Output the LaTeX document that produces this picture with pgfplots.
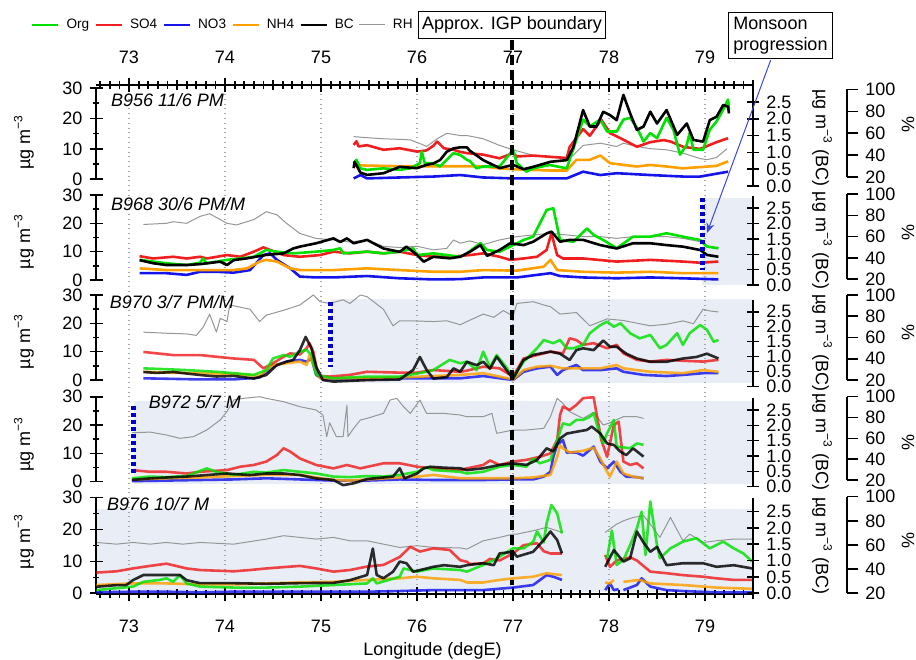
\documentclass[border=0pt]{standalone}
\usepackage{fontspec}
\setmainfont{Liberation Sans}
\usepackage{pgfplots}
\pgfplotsset{compat=1.18}
\usetikzlibrary{arrows.meta}
\definecolor{corg}{RGB}{0,225,0}
\definecolor{cso4}{RGB}{240,30,30}
\definecolor{cno3}{RGB}{20,20,235}
\definecolor{cnh4}{RGB}{255,160,0}
\definecolor{crh}{RGB}{150,150,150}
\definecolor{shadec}{RGB}{232,237,246}
\definecolor{cdot}{RGB}{0,0,200}
\definecolor{carrow}{RGB}{60,70,230}
\newcommand\fs[1]{\fontsize{#1}{#1}\selectfont}
\pgfplotsset{
 /pgf/number format/assume math mode=true,
 noarrows/.style={axis line style={-, line width=0.8pt, black}, x axis line style={-}, y axis line style={-},
   every outer y axis line/.append style={-}, every inner y axis line/.append style={-},
   every outer x axis line/.append style={-}, every inner x axis line/.append style={-}},
 base/.style={scale only axis, width=328.5pt, xmin=72.656, xmax=79.5, anchor=south west,
   axis x line=none, tick align=outside,
   tick style={line width=0.8pt, black}, clip=false, unbounded coords=jump,
   tick label style={font=\fs{9}}},
 soft/.style={every axis plot/.append style={opacity=0.82}},
 leftax/.style={base, axis y line=left, noarrows, ymin=0, ymax=30, ytick={0,10,20,30}, minor y tick num=1,
   major tick length=6.5pt, minor tick length=3pt},
 bcax/.style={base, axis y line=right, noarrows, ymin=0, ytick={0,0.5,...,2.5}, major tick length=6.3pt,
   yticklabel style={/pgf/number format/.cd, fixed, fixed zerofill, precision=1, /tikz/.cd}},
 rhdat/.style={base, axis y line=none, ymin=20, ymax=100},
 rhscale/.style={scale only axis, width=10pt, xmin=0, xmax=1, ymin=20, ymax=100, anchor=south east,
   axis x line=none, axis y line=right, noarrows, ytick={20,40,60,80,100}, tick align=outside,
   major tick length=5.8pt, tick style={line width=0.8pt, black},
   tick label style={font=\fs{9}}},
 sorg/.style={color=corg, line width=1.3pt, line join=round},
 sso4/.style={color=cso4, line width=1.3pt, line join=round},
 sno3/.style={color=cno3, line width=1.3pt, line join=round},
 snh4/.style={color=cnh4, line width=1.3pt, line join=round},
 sbc/.style={color=black, line width=1.3pt, line join=round},
 srh/.style={color=crh, line width=0.5pt, line join=round},
 frame/.style={scale only axis, width=328.5pt, height=254.5pt, at={(48pt,32.5pt)}, anchor=south west,
   xmin=72.656, xmax=79.5, ymin=0, ymax=1, axis y line=none,
   tick style={line width=0.9pt, black}, tick align=outside, xtick={73,...,79}, xticklabels={},
   minor xtick={72.7,72.8,...,79.5}, major tick length=7pt, minor tick length=3.7pt,
   extra x ticks={73.5,74.5,...,79.5}, extra x tick labels={},
   extra x tick style={major tick length=5.2pt, grid=none}},
}
\begin{document}
\begin{tikzpicture}
\useasboundingbox (0pt,0pt) rectangle (458pt,329.5pt);
\begin{scope}[shift={(0pt,329.5pt)}, x=0.5pt, y=-0.5pt]
\fill[shadec] (702.3,198) rectangle (753,285);
\fill[shadec] (331,299.3) rectangle (753,382.7);
\fill[shadec] (134,400.7) rectangle (753,484);
\fill[shadec] (97,509) rectangle (753,591.7);
\end{scope}
% bottom longitude axis with grid
\begin{axis}[frame, axis x line=bottom, noarrows, axis line style={line width=0.9pt}, xmajorgrids, major grid style={dotted, gray!70, line width=0.6pt}]
\addplot[draw=none] coordinates {(73,0.5) (79,0.5)};
\end{axis}
% top longitude axis with legend
\begin{axis}[frame, axis x line=top, noarrows, axis line style={line width=0.9pt}, legend columns=6,
  legend style={at={(rel axis cs:-0.0989,1.1179)}, anchor=west, draw=none, fill=none, inner sep=0pt,
    outer sep=0pt, font=\fs{6.8}, nodes={inner sep=0pt},
    /tikz/every odd column/.append style={column sep=3.5pt},
    /tikz/every even column/.append style={column sep=2.6pt}},
  legend cell align=left,
  legend image code/.code={\draw[#1] (0pt,0pt) -- (13pt,0pt);}]
\addlegendimage{sorg}\addlegendentry{Org}
\addlegendimage{sso4}\addlegendentry{SO4}
\addlegendimage{sno3}\addlegendentry{NO3}
\addlegendimage{snh4}\addlegendentry{NH4}
\addlegendimage{sbc}\addlegendentry{BC}
\addlegendimage{srh}\addlegendentry{RH}
\end{axis}

% ================= Panel 1: B956 =================
\begin{axis}[rhdat, at={(48pt,240.85pt)}, height=44pt]
\addplot[srh] coordinates {(75.34,57) (75.48,56) (75.65,55) (75.82,54.5) (75.93,54) (76.05,50) (76.10,48) (76.21,55) (76.31,60) (76.38,59) (76.45,58) (76.52,58) (76.69,55) (76.86,49) (77.0,45) (77.21,40) (77.39,39) (77.56,37) (77.63,40) (77.66,43) (77.73,49) (77.91,51) (78.08,48) (78.15,51) (78.29,48) (78.43,46) (78.60,45) (78.77,42) (78.95,37) (79.02,36) (79.12,38) (79.23,46)};
\end{axis}
\begin{axis}[leftax, at={(48pt,239.85pt)}, height=45.65pt]
\addplot[sno3] coordinates {(75.34,0.3) (75.41,1.4) (75.48,0.3) (75.82,0.6) (76.17,0.9) (76.45,1.4) (76.69,0.6) (77.0,0.3) (77.56,0.3) (77.73,2.5) (77.91,1.4) (78.08,2.0) (78.43,1.4) (78.77,0.9) (78.95,0.9) (79.24,2.5)};
\addplot[snh4] coordinates {(75.34,4.7) (75.48,4.5) (75.82,4.3) (76.17,4.3) (76.45,4.3) (76.69,4.2) (76.86,3.6) (77.0,3.3) (77.38,2.9) (77.56,2.9) (77.66,6.4) (77.80,6.4) (77.91,7.8) (78.01,5.3) (78.29,4.2) (78.43,4.7) (78.60,4.2) (78.77,3.6) (79.12,4.4) (79.24,5.9)};
\addplot[sso4] coordinates {(75.34,11.3) (75.37,12.5) (75.39,10.8) (75.48,11.2) (75.65,9.7) (75.82,10.2) (76.0,9.1) (76.10,9.5) (76.17,11) (76.21,12.4) (76.28,10.2) (76.38,9.7) (76.45,9.0) (76.52,8.6) (76.69,8.1) (76.86,6.9) (77.0,8.6) (77.04,7.5) (77.21,7.8) (77.38,7.4) (77.56,7.0) (77.59,10.6) (77.73,16.5) (77.80,14.3) (77.92,19.6) (78.01,15.2) (78.15,13.0) (78.29,10.7) (78.43,12.2) (78.57,12.9) (78.64,12.4) (78.78,10.6) (78.95,10.0) (79.12,12.2) (79.24,13.5)};
\addplot[sorg] coordinates {(75.34,5.3) (75.37,6.4) (75.41,3.6) (75.48,3.1) (75.65,3.6) (75.82,3.1) (75.93,3.6) (76.03,5.3) (76.05,9.1) (76.08,5.3) (76.17,5.3) (76.24,4.2) (76.31,6.4) (76.38,8.6) (76.45,8.0) (76.52,6.4) (76.55,6.0) (76.62,3.6) (76.69,4.2) (76.86,4.2) (77.0,9.7) (77.04,5.3) (77.14,2.5) (77.21,3.6) (77.38,4.7) (77.56,3.6) (77.63,10.2) (77.73,19.6) (77.80,17.4) (77.91,19.6) (77.98,15.7) (78.08,15.7) (78.15,19.6) (78.22,20.2) (78.29,17.0) (78.36,12.4) (78.43,15.2) (78.50,13.5) (78.60,20.2) (78.67,16.3) (78.74,8.1) (78.81,11.3) (78.84,15.2) (78.88,9.7) (78.98,9.7) (79.05,16.3) (79.12,19.0) (79.19,22.9) (79.24,26.2) (79.25,23)};
\end{axis}
\begin{axis}[bcax, at={(48pt,236.5pt)}, height=48pt, ymax=2.857]
\addplot[sbc] coordinates {(75.34,0.53) (75.35,0.72) (75.41,0.40) (75.48,0.33) (75.65,0.38) (75.82,0.57) (76.0,0.53) (76.10,0.63) (76.17,0.67) (76.24,0.77) (76.31,1.02) (76.38,1.12) (76.45,1.15) (76.52,1.15) (76.55,1.05) (76.69,0.77) (76.86,0.53) (77.0,0.63) (77.11,0.50) (77.21,0.57) (77.39,0.72) (77.56,0.77) (77.63,1.17) (77.73,2.26) (77.80,1.77) (77.87,1.77) (77.94,2.21) (78.01,2.11) (78.08,1.96) (78.15,2.71) (78.22,2.16) (78.29,1.67) (78.36,1.77) (78.43,2.21) (78.50,1.86) (78.60,2.26) (78.71,1.52) (78.81,1.86) (78.88,1.37) (78.98,1.32) (79.05,1.96) (79.12,2.06) (79.19,2.41) (79.24,2.36) (79.25,2.16)};
\end{axis}
\begin{axis}[rhscale, at={(423.35pt,240.85pt)}, height=44pt]
\end{axis}

% ================= Panel 2: B968 =================
\begin{axis}[rhdat, at={(48pt,189.85pt)}, height=42.65pt]
\addplot[srh] coordinates {(73.15,71.4) (73.39,72.5) (73.46,74) (73.60,72.5) (73.74,79) (73.84,81.5) (74.02,72.5) (74.12,71) (74.30,76) (74.43,83.4) (74.54,80.5) (74.64,72.5) (74.78,63) (74.95,58.3) (75.13,56.9) (75.30,55) (75.48,56.9) (75.65,50.9) (75.82,49.8) (76.0,51) (76.17,47.6) (76.31,49) (76.38,56.9) (76.45,53.8) (76.55,56) (76.69,52.5) (76.86,56.9) (77.04,60) (77.21,61.6) (77.39,63.1) (77.56,61.6) (77.73,60) (77.91,60) (78.08,58.4) (78.25,60) (78.43,60) (78.60,60) (78.77,58.4) (78.95,55.3)};
\end{axis}
\begin{axis}[leftax, at={(48pt,189.5pt)}, height=42.5pt]
\addplot[sno3] coordinates {(73.11,2.4) (73.39,2.4) (73.60,1.8) (73.74,2.9) (73.91,2.9) (74.09,2.6) (74.26,3.5) (74.40,8.8) (74.47,9.4) (74.54,7.1) (74.68,4.1) (74.78,1.2) (74.95,0.9) (75.13,0.9) (75.48,1.4) (75.82,0.6) (76.17,0.2) (76.45,0.3) (76.69,0.9) (77.04,0.9) (77.39,2.4) (77.49,1.4) (77.73,0.9) (78.08,0.6) (78.43,0.9) (78.77,0.6) (79.14,0.2)};
\addplot[snh4] coordinates {(73.11,4.1) (73.39,3.5) (73.74,3.5) (74.09,3.5) (74.23,4.1) (74.36,6.5) (74.43,7.1) (74.54,6.5) (74.68,4.1) (74.78,3.5) (75.13,3.5) (75.48,4.1) (75.82,3.5) (76.17,2.9) (76.45,2.9) (76.69,3.5) (77.04,3.3) (77.32,4.7) (77.39,7.1) (77.46,3.5) (77.73,2.9) (78.08,2.6) (78.43,2.9) (78.77,2.4) (79.14,2.4)};
\addplot[sso4] coordinates {(73.11,8.4) (73.25,7.6) (73.46,8.2) (73.60,7.6) (73.74,8.2) (73.81,7.6) (74.02,8.8) (74.16,8.2) (74.30,10.0) (74.40,11.5) (74.47,10.6) (74.61,8.8) (74.78,8.2) (74.99,8.8) (75.13,10.0) (75.30,9.4) (75.48,10.0) (75.65,9.4) (75.82,10.0) (76.0,8.8) (76.17,8.2) (76.34,8.2) (76.55,8.8) (76.69,9.4) (76.86,8.2) (76.97,7.1) (77.11,7.6) (77.25,8.2) (77.35,10.6) (77.40,16.5) (77.46,8.8) (77.52,7.6) (77.73,7.6) (78.08,6.5) (78.43,7.1) (78.77,6.5) (78.95,6.1) (79.14,6.5)};
\addplot[sorg] coordinates {(73.11,7.1) (73.25,6.5) (73.39,5.9) (73.60,5.3) (73.74,6.1) (73.77,7.6) (73.81,5.9) (74.02,7.1) (74.16,7.6) (74.30,8.2) (74.43,10.6) (74.54,10.0) (74.71,9.4) (74.95,10.0) (75.13,10.6) (75.20,11.2) (75.23,9.4) (75.48,10.0) (75.65,9.4) (75.82,10.0) (75.96,11.2) (76.0,8.8) (76.17,9.4) (76.45,8.2) (76.52,9.4) (76.66,13.0) (76.73,10.6) (76.86,10.0) (76.97,11.8) (77.11,14.1) (77.21,15.3) (77.35,24.7) (77.42,25.3) (77.49,14.1) (77.63,13.5) (77.77,18.2) (77.84,15.9) (77.94,14.1) (78.08,11.2) (78.25,15.3) (78.43,15.3) (78.60,16.5) (78.77,15.3) (78.95,14.1) (79.02,11.8) (79.14,11.2)};
\end{axis}
\begin{axis}[bcax, at={(48pt,187pt)}, height=44.5pt, ymax=2.9]
\addplot[sbc] coordinates {(73.11,0.81) (73.25,0.71) (73.39,0.65) (73.60,0.65) (73.74,0.68) (73.95,0.76) (74.02,0.65) (74.09,0.81) (74.23,0.87) (74.43,0.98) (74.61,1.03) (74.71,1.19) (74.78,1.25) (74.95,1.36) (75.13,1.52) (75.20,1.40) (75.27,1.52) (75.34,1.36) (75.48,1.47) (75.65,1.19) (75.82,1.08) (75.89,1.25) (76.0,0.98) (76.07,0.76) (76.17,0.92) (76.34,0.87) (76.45,0.92) (76.55,1.08) (76.66,1.30) (76.73,0.95) (76.86,1.14) (76.97,1.36) (77.11,1.30) (77.21,1.41) (77.35,1.68) (77.40,1.74) (77.49,1.41) (77.59,1.47) (77.73,1.47) (77.91,1.30) (78.08,1.19) (78.25,1.36) (78.43,1.36) (78.60,1.30) (78.77,1.25) (78.95,1.14) (79.02,0.98) (79.14,0.92)};
\end{axis}
\begin{axis}[rhscale, at={(423.35pt,189.85pt)}, height=42.65pt]
\end{axis}

% ================= Panel 3: B970 =================
\begin{axis}[rhdat, at={(48pt,139.5pt)}, height=42.5pt]
\addplot[srh] coordinates {(73.15,65) (73.39,64) (73.60,63.4) (73.70,62) (73.77,69.4) (73.84,82) (73.91,65) (73.95,78) (74.02,75) (74.05,90.6) (74.26,86.6) (74.36,75) (74.43,81) (74.61,85.6) (74.78,90.6) (74.92,100) (74.99,93.7) (75.09,92) (75.23,95.5) (75.30,92) (75.41,100) (75.48,98.4) (75.65,86.6) (75.75,71) (75.82,75.7) (76.0,75.5) (76.17,75) (76.31,75.7) (76.45,72) (76.52,75) (76.69,82) (76.80,79) (76.90,85.4) (77.0,80) (77.04,92) (77.21,93.7) (77.32,90.6) (77.39,89) (77.49,82) (77.66,83.5) (77.80,71) (77.98,77.5) (78.15,76) (78.43,71) (78.60,72.5) (78.77,75.6) (78.88,73) (78.98,86.6) (79.05,85) (79.14,84)};
\end{axis}
\begin{axis}[leftax, soft, at={(48pt,139.5pt)}, height=42.5pt]
\addplot[sno3] coordinates {(73.15,0.6) (73.74,0.2) (74.09,0.2) (74.36,0.9) (74.50,4.7) (74.64,6.5) (74.78,7.1) (74.85,6.5) (74.90,7.6) (74.95,1.8) (75.02,0.2) (75.48,0.3) (75.82,0.6) (76.45,0.6) (76.69,1.4) (77.0,0) (77.11,2.9) (77.25,4.1) (77.39,4.7) (77.46,1.8) (77.52,3.5) (77.66,5.3) (77.73,3.5) (77.91,3.5) (78.08,4.1) (78.15,2.9) (78.36,1.8) (78.60,1.4) (78.77,1.8) (78.98,2.4) (79.14,2.4)};
\addplot[snh4] coordinates {(73.15,2.9) (73.39,2.6) (73.74,2.4) (74.09,2.1) (74.36,1.4) (74.50,5.3) (74.64,5.9) (74.78,6.5) (74.85,5.3) (74.88,8.8) (74.92,5.3) (74.99,0.6) (75.13,0.6) (75.48,0.6) (75.82,0.9) (76.17,1.4) (76.45,1.8) (76.69,2.4) (77.0,0.2) (77.11,3.5) (77.25,4.7) (77.39,5.0) (77.52,4.1) (77.73,4.1) (77.91,4.1) (78.08,5.3) (78.15,4.1) (78.43,2.9) (78.77,2.4) (78.98,3.5) (79.14,2.9)};
\addplot[sso4] coordinates {(73.15,9.9) (73.29,9.4) (73.46,8.8) (73.74,8.8) (73.91,8.2) (74.09,7.6) (74.30,7.1) (74.40,4.1) (74.50,5.9) (74.61,8.2) (74.68,9.4) (74.78,9.0) (74.85,11.2) (74.88,13.0) (74.92,10.0) (74.97,1.5) (75.09,1.2) (75.30,1.8) (75.48,2.9) (75.82,2.6) (76.0,2.6) (76.17,3.5) (76.45,2.9) (76.52,3.3) (76.69,4.7) (76.86,4.1) (77.0,1.2) (77.11,7.6) (77.25,8.8) (77.39,10.0) (77.52,9.4) (77.59,14.7) (77.66,14.1) (77.73,12.4) (77.84,13.0) (77.98,11.2) (78.08,12.4) (78.15,9.4) (78.29,7.1) (78.43,6.5) (78.60,7.1) (78.77,6.8) (78.98,6.5) (79.14,7.1)};
\addplot[sorg] coordinates {(73.15,4.1) (73.39,3.8) (73.60,3.5) (73.91,2.9) (74.09,2.4) (74.30,1.8) (74.43,3.5) (74.50,7.6) (74.61,8.8) (74.68,8.2) (74.78,10.0) (74.85,10.6) (74.90,8.8) (74.95,1.8) (75.13,0.6) (75.48,1.2) (75.82,1.2) (76.10,2.9) (76.17,3.5) (76.34,7.1) (76.45,5.9) (76.52,6.5) (76.62,3.5) (76.69,10.0) (76.76,4.5) (76.83,8.8) (76.93,4.5) (77.0,0.6) (77.11,6.5) (77.25,11.2) (77.32,14.1) (77.42,13.0) (77.49,14.1) (77.56,11.2) (77.63,11.2) (77.73,12.4) (77.80,16.5) (77.91,19.4) (77.98,20.6) (78.05,18.8) (78.12,20.0) (78.22,16.5) (78.32,14.7) (78.43,15.9) (78.53,11.2) (78.60,12.4) (78.71,16.5) (78.77,12.4) (78.84,16.5) (78.95,19.4) (79.02,17.7) (79.09,13.5) (79.14,14.1)};
\end{axis}
\begin{axis}[bcax, soft, at={(48pt,136.15pt)}, height=43.5pt, ymax=2.9]
\addplot[sbc] coordinates {(73.15,0.49) (73.29,0.46) (73.46,0.49) (73.74,0.39) (73.91,0.34) (74.09,0.36) (74.30,0.27) (74.43,0.39) (74.54,0.72) (74.64,0.83) (74.71,0.89) (74.78,1.22) (74.84,1.66) (74.90,1.28) (74.95,0.66) (75.02,0.22) (75.13,0.17) (75.48,0.22) (75.82,0.24) (75.96,0.56) (76.03,0.99) (76.10,0.56) (76.17,0.27) (76.31,0.32) (76.38,0.61) (76.45,0.50) (76.52,0.83) (76.62,0.72) (76.69,0.83) (76.76,0.60) (76.83,1.0) (76.93,0.56) (77.0,0.27) (77.11,0.89) (77.21,1.06) (77.39,1.17) (77.49,1.10) (77.59,0.89) (77.66,1.22) (77.73,1.28) (77.84,1.22) (77.94,1.54) (78.01,1.33) (78.08,1.33) (78.18,1.10) (78.29,0.94) (78.43,0.83) (78.60,0.83) (78.77,0.94) (78.91,0.99) (79.02,1.10) (79.14,0.94)};
\end{axis}
\begin{axis}[rhscale, at={(423.35pt,139.5pt)}, height=42.5pt]
\end{axis}

% ================= Panel 4: B972 =================
\begin{axis}[rhdat, at={(48pt,89.5pt)}, height=41.65pt]
\addplot[srh] coordinates {(73.03,65.4) (73.22,66) (73.39,63.2) (73.53,60) (73.67,61.6) (73.81,68) (73.95,77.6) (74.02,85.8) (74.09,96.8) (74.19,98.4) (74.36,100) (74.43,98.4) (74.61,95.2) (74.78,90.4) (74.95,87.2) (75.02,82.4) (75.06,61.6) (75.09,75) (75.16,61.6) (75.23,61.6) (75.27,91.9) (75.28,61.6) (75.34,69.6) (75.41,77.6) (75.48,79.2) (75.65,84) (75.72,96.8) (75.79,98.4) (75.86,90.4) (75.93,84) (76.03,96.8) (76.10,84) (76.28,84) (76.45,82.4) (76.52,80.8) (76.69,80.8) (76.78,84) (76.83,64.8) (77.0,68) (77.14,68) (77.32,69.6) (77.39,80.8) (77.46,98.4) (77.52,93.6) (77.59,85.6) (77.73,79.2) (77.84,85) (77.94,72.8) (78.01,75) (78.15,80.8) (78.29,80.8) (78.36,79.2)};
\end{axis}
\begin{axis}[leftax, soft, at={(48pt,88.65pt)}, height=42.5pt]
\addplot[sno3] coordinates {(73.03,0.2) (73.39,0.4) (73.74,0.6) (74.09,0.8) (74.43,1.2) (74.78,0.8) (75.13,0.4) (75.48,0.4) (75.82,0.8) (76.17,0.6) (76.45,0.6) (76.69,0.6) (77.0,0.8) (77.21,0.8) (77.32,1.8) (77.39,3.5) (77.42,8.8) (77.46,13.0) (77.52,14.7) (77.56,10.3) (77.66,10.3) (77.73,9.2) (77.84,12.4) (77.91,7.1) (77.98,4.7) (78.05,7.1) (78.12,3.5) (78.18,1.8) (78.29,1.6) (78.36,1.2)};
\addplot[snh4] coordinates {(73.03,0.8) (73.39,1.2) (73.74,1.5) (74.09,2.0) (74.43,2.4) (74.78,2.4) (74.95,1.5) (75.13,0.6) (75.30,0.4) (75.48,0.8) (75.82,1.5) (76.0,1.8) (76.17,2.4) (76.45,1.2) (76.69,1.2) (77.0,1.2) (77.21,1.5) (77.39,2.4) (77.46,8.8) (77.49,12.9) (77.52,11.8) (77.59,10.3) (77.73,10.9) (77.84,12.0) (77.91,8.2) (77.98,3.5) (78.01,1.8) (78.08,7.1) (78.15,2.9) (78.25,1.8) (78.36,1.2)};
\addplot[sso4] coordinates {(73.03,4.1) (73.22,3.5) (73.39,3.5) (73.60,2.9) (73.74,3.5) (74.02,4.1) (74.16,5.3) (74.30,5.9) (74.43,7.1) (74.54,9.4) (74.61,11.8) (74.68,10.6) (74.78,8.2) (74.95,5.9) (75.13,4.7) (75.27,5.9) (75.41,4.7) (75.65,6.5) (75.82,6.5) (76.0,5.3) (76.17,4.7) (76.45,4.1) (76.52,4.7) (76.69,5.9) (76.76,7.5) (76.86,5.9) (77.0,7.1) (77.14,7.7) (77.28,8.8) (77.39,10.0) (77.46,14.7) (77.49,23.5) (77.52,26.5) (77.59,25.3) (77.66,27.1) (77.73,29.5) (77.84,29.8) (77.87,24) (77.92,14.7) (77.98,8.8) (78.05,20.0) (78.10,21.2) (78.15,7.1) (78.22,5.9) (78.29,6.5) (78.36,4.7)};
\addplot[sorg] coordinates {(73.03,1.2) (73.22,1.8) (73.39,1.6) (73.60,2.0) (73.81,4.7) (73.91,3.5) (74.09,2.4) (74.30,3.5) (74.43,3.2) (74.61,4.1) (74.78,3.5) (74.95,2.9) (75.13,1.8) (75.30,1.6) (75.48,2.0) (75.65,1.8) (75.82,2.4) (76.0,3.5) (76.10,5.1) (76.17,4.1) (76.45,3.5) (76.52,2.9) (76.69,3.5) (76.86,5.3) (77.0,5.9) (77.14,5.3) (77.21,8.2) (77.28,6.5) (77.39,7.7) (77.46,14.7) (77.52,20.6) (77.59,20.0) (77.66,21.8) (77.73,21.8) (77.80,22.9) (77.84,24.2) (77.87,20.6) (77.94,13.6) (77.98,17.1) (78.05,21.8) (78.08,12.4) (78.22,11.8) (78.29,13.5) (78.36,13.0)};
\end{axis}
\begin{axis}[bcax, soft, at={(48pt,86.15pt)}, height=44.5pt, ymax=2.9]
\addplot[sbc] coordinates {(73.03,0.22) (73.22,0.27) (73.39,0.30) (73.60,0.33) (74.02,0.43) (74.26,0.38) (74.43,0.43) (74.61,0.43) (74.78,0.38) (74.95,0.27) (75.13,0.22) (75.23,0.05) (75.34,0.11) (75.48,0.25) (75.65,0.30) (75.75,0.33) (75.82,0.60) (75.87,0.27) (76.0,0.43) (76.07,0.60) (76.14,0.65) (76.28,0.62) (76.45,0.60) (76.52,0.54) (76.69,0.60) (76.86,0.71) (77.0,0.76) (77.14,0.71) (77.25,0.87) (77.35,1.25) (77.42,1.15) (77.49,1.57) (77.56,1.73) (77.66,1.79) (77.77,1.85) (77.82,1.96) (77.91,1.73) (77.98,1.41) (78.05,1.36) (78.12,1.14) (78.18,1.03) (78.25,1.25) (78.36,0.98)};
\end{axis}
\begin{axis}[rhscale, at={(423.35pt,89.5pt)}, height=41.65pt]
\end{axis}

% ================= Panel 5: B976 =================
\begin{axis}[rhdat, at={(48pt,32.85pt)}, height=48.3pt]
\addplot[srh] coordinates {(72.66,62.1) (72.87,60.7) (73.04,62.1) (73.22,60.7) (73.39,62.1) (73.56,60.7) (73.74,62.1) (74.09,60.7) (74.43,64.9) (74.61,67.7) (74.78,66.3) (74.95,64.9) (75.13,66.3) (75.30,63.5) (75.48,63.5) (75.65,60.7) (75.82,58) (76.0,59.4) (76.17,58) (76.45,57.6) (76.52,56.6) (76.69,63.5) (76.86,66.3) (77.0,69) (77.04,69) (77.21,71.8) (77.35,74.6) (77.46,71.8) (77.51,70.4) (77.7,nan) (77.96,70.4) (78.08,77.3) (78.15,80) (78.25,82.8) (78.36,84.2) (78.43,77.3) (78.53,66.3) (78.64,82.8) (78.77,63.5) (78.84,69) (78.98,62.1) (79.12,63.5) (79.30,64.9) (79.49,64.9)};
\end{axis}
\begin{axis}[leftax, soft, at={(48pt,32.85pt)}, height=47.8pt]
\addplot[sno3] coordinates {(72.66,0.3) (73.04,0.5) (73.39,0.5) (73.74,0.3) (74.09,0.5) (74.43,0.5) (75.13,0.5) (75.48,0.5) (75.82,0.7) (76.17,1.0) (76.45,1.0) (76.69,1.0) (77.0,1.8) (77.21,2.6) (77.35,5.7) (77.42,5.2) (77.51,4.2) (77.7,nan) (77.96,1.0) (78.01,3.1) (78.05,1.0) (78.10,1.3) (78.12,nan) (78.15,1.0) (78.29,2.6) (78.34,4.7) (78.43,2.1) (78.60,1.0) (78.77,0.7) (79.12,0.3) (79.49,0.3)};
\addplot[snh4] coordinates {(72.66,2.6) (73.04,3.1) (73.39,3.1) (73.74,2.8) (74.09,2.8) (74.43,3.1) (74.78,3.4) (75.13,3.6) (75.48,4.2) (75.82,4.7) (76.0,5.2) (76.17,4.7) (76.45,4.2) (76.52,3.4) (76.69,3.4) (76.86,4.2) (77.0,4.7) (77.21,5.2) (77.35,6.3) (77.51,5.7) (77.7,nan) (77.96,3.4) (78.01,3.1) (78.05,4.2) (78.12,nan) (78.15,3.6) (78.32,4.2) (78.43,3.1) (78.77,2.6) (79.12,1.8) (79.49,1.4)};
\addplot[sso4] coordinates {(72.66,6.5) (72.87,6.9) (73.04,7.8) (73.22,8.6) (73.39,9.3) (73.60,7.8) (73.74,7.3) (74.09,6.9) (74.26,7.3) (74.43,7.8) (74.78,8.6) (74.95,7.8) (75.13,6.8) (75.30,7.3) (75.48,8.4) (75.65,8.9) (75.82,11.4) (75.93,14.6) (76.03,13.1) (76.17,14.1) (76.34,13.6) (76.45,10.4) (76.52,9.9) (76.55,9.2) (76.69,9.4) (76.76,10.8) (76.86,10.3) (77.0,12.5) (77.11,15.1) (77.25,15.7) (77.32,13.2) (77.39,12.5) (77.51,12.5) (77.7,nan) (77.96,12.0) (78.01,8.3) (78.08,10.3) (78.22,11.3) (78.29,10.3) (78.43,6.8) (78.60,6.3) (78.77,5.7) (78.98,5.2) (79.12,4.7) (79.30,4.2) (79.49,4.2)};
\addplot[sorg] coordinates {(72.66,1.0) (72.87,1.6) (73.04,2.1) (73.15,3.6) (73.32,4.2) (73.39,4.7) (73.46,3.6) (73.53,5.7) (73.60,3.1) (73.74,2.1) (74.09,1.8) (74.43,1.8) (74.78,2.1) (75.13,2.6) (75.48,3.1) (75.54,4.7) (75.58,3.1) (75.82,5.2) (75.86,7.8) (76.0,6.8) (76.17,7.8) (76.45,7.3) (76.52,6.8) (76.69,8.9) (76.80,10.4) (77.0,14.1) (77.11,14.1) (77.21,16.2) (77.25,19.4) (77.32,16.0) (77.35,22) (77.40,27.7) (77.46,25.1) (77.51,18.8) (77.7,nan) (77.98,11.0) (78.03,19.7) (78.08,8.9) (78.15,10.5) (78.22,15.1) (78.29,20.4) (78.34,25.6) (78.38,12.0) (78.43,28.8) (78.50,15.1) (78.53,11.0) (78.64,14.1) (78.77,16.2) (78.91,17.3) (79.05,14.1) (79.19,16.2) (79.30,14.1) (79.40,12.5) (79.49,10.0)};
\end{axis}
\begin{axis}[bcax, soft, at={(48pt,32.85pt)}, height=47.4pt, ymax=2.9]
\addplot[sbc] coordinates {(72.66,0.20) (72.87,0.25) (72.97,0.25) (73.04,0.40) (73.15,0.56) (73.39,0.56) (73.53,0.56) (73.60,0.40) (73.74,0.31) (74.09,0.31) (74.43,0.29) (74.78,0.31) (75.13,0.32) (75.30,0.40) (75.48,0.56) (75.54,1.37) (75.58,0.56) (75.65,0.46) (75.75,0.66) (75.82,0.97) (75.89,0.92) (75.96,0.66) (76.17,0.81) (76.28,0.86) (76.45,0.81) (76.52,0.86) (76.69,0.92) (76.80,0.86) (76.86,1.22) (77.0,1.27) (77.04,1.12) (77.21,1.27) (77.32,1.63) (77.39,1.89) (77.46,1.63) (77.51,1.22) (77.7,nan) (77.96,0.81) (78.05,1.32) (78.15,0.97) (78.22,1.07) (78.29,1.89) (78.36,1.55) (78.43,1.27) (78.50,1.42) (78.60,0.86) (78.77,0.92) (78.98,0.92) (79.12,0.81) (79.30,0.86) (79.49,0.76)};
\end{axis}
\begin{axis}[rhscale, at={(423.35pt,32.85pt)}, height=48.3pt]
\end{axis}

\begin{scope}[shift={(0pt,329.5pt)}, x=0.5pt, y=-0.5pt]
% longitude tick labels (top and bottom)
\foreach \lx/\lab in {129/73,225/74,321/75,417/76,513/77,609/78,705/79} {
  \node[anchor=base, font=\fs{9}, inner sep=0pt] at (\lx,63.5) {\lab};
  \node[anchor=base, font=\fs{9}, inner sep=0pt] at (\lx,633) {\lab};
}
\foreach \yy in {142,241.5,341.5,444,541.7} {
  \node[rotate=90, font=\fs{9}] at (24,\yy) {µg m\textsuperscript{−3}};
}
\foreach \yy in {138,240.5,343,442,546} {
  \node[rotate=-90, font=\fs{9}] at (822,\yy) {µg m\textsuperscript{−3} (BC)};
}
\foreach \yy in {125,233,333,443,541} {
  \node[rotate=-90, font=\fs{9}] at (908,\yy) {\%};
}
\node[anchor=base west, font=\fs{9}\itshape] at (104,106.7) {B956 11/6 PM};
\node[anchor=base west, font=\fs{9}\itshape] at (104,210.7) {B968 30/6 PM/M};
\node[anchor=base west, font=\fs{9}\itshape] at (102.7,308.3) {B970 3/7 PM/M};
\node[anchor=base west, font=\fs{9}\itshape] at (141.7,408.3) {B972 5/7 M};
\node[anchor=base west, font=\fs{9}\itshape] at (100,511) {B976 10/7 M};
\node[anchor=base, font=\fs{9}] at (432.5,655.7) {Longitude (degE)};
\draw[black, line width=2pt, dash pattern=on 5pt off 2.5pt] (512,40) -- (512,585);
\draw[cdot, line width=2.5pt, dash pattern=on 2pt off 1.5pt] (702.3,198) -- (702.3,270);
\draw[cdot, line width=2.5pt, dash pattern=on 2pt off 1.5pt] (330,301.7) -- (330,366.7);
\draw[cdot, line width=2.5pt, dash pattern=on 2pt off 1.5pt] (133.3,406) -- (133.3,473);
\node[draw, line width=0.6pt, fill=white, inner xsep=1.8pt, inner ysep=2.4pt, font=\fs{9}] at (512,25) {Approx. IGP boundary};
\node[draw, line width=0.6pt, fill=white, align=left, inner xsep=2.3pt, inner ysep=2.2pt, font=\fontsize{9}{10.8}\selectfont] at (780.5,35.5) {Monsoon\\progression};
\draw[carrow, line width=0.5pt, -{Stealth[length=5pt,width=4pt]}] (770.7,60) -- (707,233);
\end{scope}
\end{tikzpicture}
\end{document}
